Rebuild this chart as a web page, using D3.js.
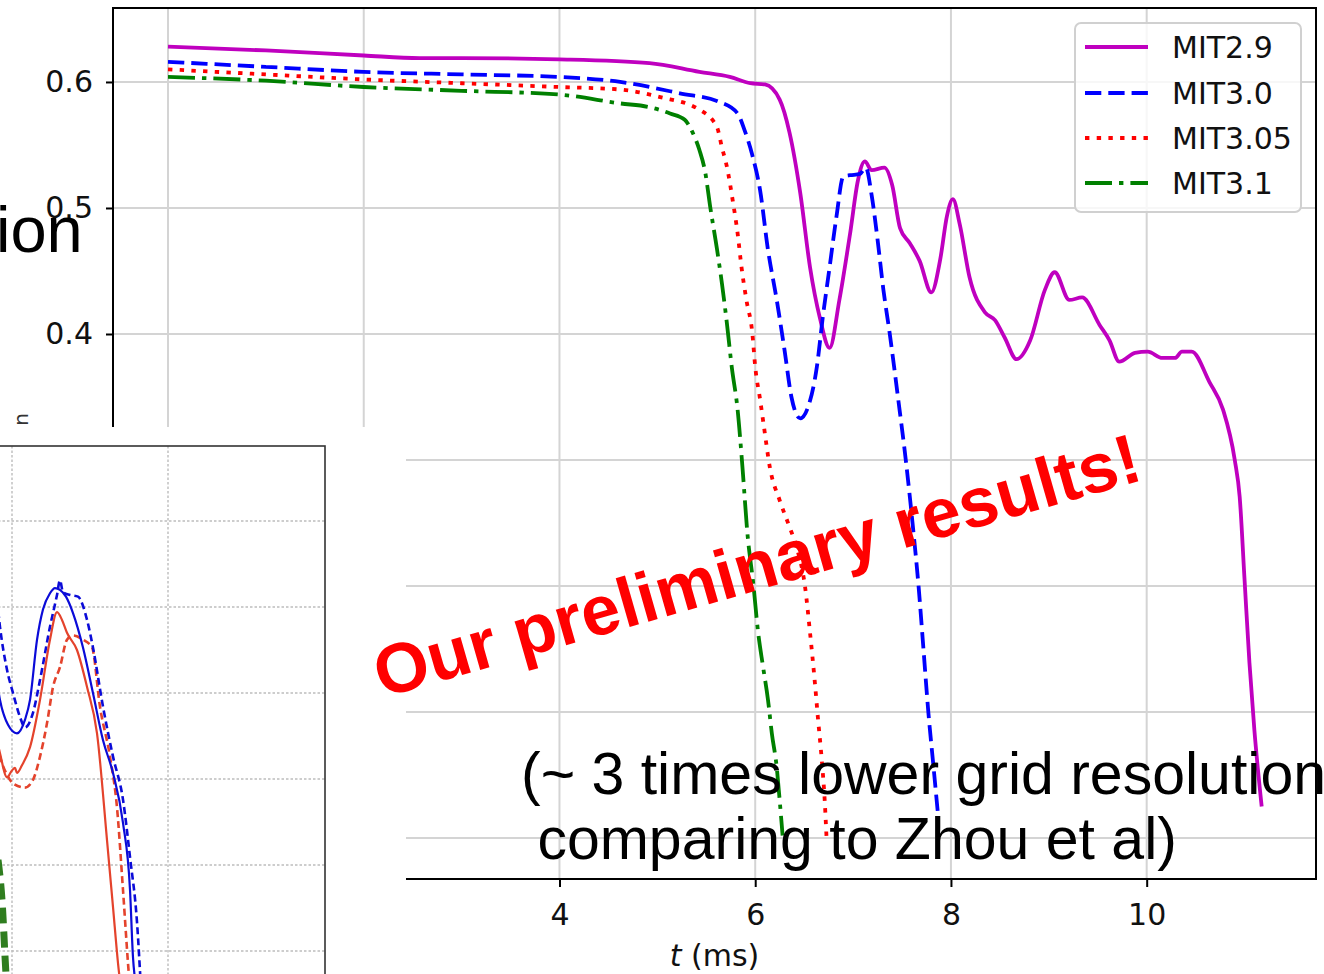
<!DOCTYPE html>
<html>
<head>
<meta charset="utf-8">
<script src="https://cdn.jsdelivr.net/npm/d3@7"></script>
<style>
  html, body { margin: 0; padding: 0; background: #fff; overflow: hidden; }
</style>
</head>
<body>
<svg id="fig" width="1324" height="974" font-family="DejaVu Sans, sans-serif"></svg>
<script>
// ---- main chart: minimum value vs time, four MIT cases -----------------
const seriesNames = ["MIT2.9", "MIT3.0", "MIT3.05", "MIT3.1"];
const seriesColors = ["#bf00bf", "#0000ff", "#ff0000", "#008000"];

// [t (ms), value]
const mit29 = [[0.00,0.628],[1.00,0.625],[2.00,0.621],[2.57,0.619],[3.00,0.619],[4.00,0.618],[4.92,0.615],[5.43,0.608],[5.74,0.604],[5.95,0.599],[6.10,0.598],[6.25,0.586],[6.35,0.560],[6.46,0.512],[6.56,0.453],[6.66,0.413],[6.76,0.389],[6.86,0.427],[6.97,0.480],[7.05,0.522],[7.12,0.537],[7.19,0.530],[7.32,0.532],[7.40,0.518],[7.48,0.484],[7.58,0.472],[7.68,0.458],[7.80,0.433],[7.89,0.459],[7.96,0.494],[8.02,0.507],[8.09,0.487],[8.19,0.445],[8.35,0.417],[8.45,0.411],[8.55,0.397],[8.67,0.380],[8.81,0.395],[8.96,0.435],[9.06,0.449],[9.21,0.427],[9.34,0.429],[9.52,0.407],[9.62,0.395],[9.72,0.378],[9.88,0.385],[10.01,0.386],[10.16,0.381],[10.29,0.381],[10.36,0.386],[10.46,0.386],[10.64,0.362],[10.78,0.340],[10.90,0.300],[10.95,0.271],[11.00,0.205],[11.05,0.139],[11.10,0.086],[11.175,0.025]];
const mit30 = [[0.00,0.616],[1.00,0.612],[2.00,0.608],[3.00,0.606],[4.00,0.604],[4.62,0.600],[5.23,0.591],[5.64,0.584],[5.82,0.575],[5.89,0.562],[5.97,0.542],[6.05,0.514],[6.13,0.467],[6.22,0.427],[6.30,0.387],[6.37,0.350],[6.46,0.333],[6.54,0.342],[6.63,0.374],[6.69,0.413],[6.76,0.453],[6.83,0.493],[6.90,0.525],[6.97,0.526],[7.07,0.527],[7.13,0.532],[7.19,0.510],[7.25,0.475],[7.31,0.435],[7.375,0.400],[7.46,0.349],[7.54,0.299],[7.61,0.248],[7.67,0.199],[7.72,0.149],[7.77,0.099],[7.82,0.058],[7.865,0.021]];
const mit305 = [[0.00,0.610],[1.00,0.606],[2.00,0.602],[3.00,0.599],[4.00,0.596],[4.62,0.594],[5.03,0.588],[5.43,0.578],[5.61,0.564],[5.66,0.548],[5.71,0.533],[5.77,0.506],[5.82,0.480],[5.86,0.453],[5.91,0.427],[5.97,0.401],[6.00,0.374],[6.05,0.348],[6.09,0.326],[6.15,0.294],[6.25,0.268],[6.35,0.247],[6.43,0.229],[6.51,0.199],[6.56,0.163],[6.61,0.123],[6.64,0.096],[6.68,0.062],[6.71,0.030],[6.73,-0.002]];
const mit31 = [[0.00,0.604],[1.00,0.601],[2.00,0.596],[3.00,0.593],[4.00,0.590],[4.62,0.583],[4.92,0.580],[5.13,0.575],[5.28,0.570],[5.36,0.560],[5.43,0.546],[5.49,0.528],[5.54,0.501],[5.61,0.467],[5.66,0.440],[5.71,0.409],[5.76,0.374],[5.82,0.340],[5.87,0.294],[5.92,0.242],[5.98,0.202],[6.03,0.163],[6.08,0.136],[6.13,0.110],[6.17,0.083],[6.22,0.056],[6.25,0.030],[6.28,0.002]];

const xTicks = [0, 2, 4, 6, 8, 10];
const yTicks = [0.0, 0.1, 0.2, 0.3, 0.4, 0.5, 0.6];
const xDomain = [-0.562, 11.73];
const yDomain = [-0.0325, 0.6587];

// ---- inset (reference curves, Zhou et al) --------------------------------
const insetXTicks = [7, 9];
const insetYTicks = [0.1, 0.2, 0.3, 0.4, 0.5, 0.6];
const zhouBlueSolid = [[6.769,0.438],[6.846,0.392],[6.949,0.363],[7.064,0.353],[7.167,0.369],[7.231,0.392],[7.321,0.462],[7.397,0.497],[7.487,0.516],[7.551,0.522],[7.615,0.520],[7.692,0.512],[7.782,0.493],[7.910,0.453],[8.038,0.400],[8.167,0.345],[8.295,0.307],[8.423,0.249],[8.513,0.171],[8.551,0.093],[8.603,0.055]];
const zhouBlueDashed = [[6.808,0.508],[6.846,0.477],[6.936,0.427],[7.013,0.400],[7.103,0.372],[7.167,0.360],[7.269,0.377],[7.359,0.415],[7.487,0.477],[7.577,0.514],[7.615,0.531],[7.654,0.517],[7.744,0.514],[7.846,0.512],[7.962,0.485],[8.038,0.453],[8.167,0.384],[8.295,0.326],[8.423,0.276],[8.513,0.209],[8.603,0.133],[8.654,0.055]];
const zhouRedSolid = [[6.808,0.345],[6.846,0.330],[6.936,0.302],[7.000,0.310],[7.038,0.313],[7.064,0.307],[7.128,0.316],[7.231,0.337],[7.359,0.392],[7.487,0.462],[7.577,0.494],[7.641,0.485],[7.705,0.470],[7.833,0.450],[7.962,0.407],[8.090,0.353],[8.218,0.229],[8.295,0.151],[8.359,0.086],[8.397,0.055]];
const zhouRedDashed = [[6.808,0.340],[6.846,0.326],[6.936,0.305],[7.013,0.295],[7.167,0.290],[7.269,0.299],[7.359,0.326],[7.449,0.365],[7.526,0.407],[7.615,0.430],[7.705,0.462],[7.782,0.467],[7.910,0.462],[8.026,0.453],[8.128,0.384],[8.256,0.326],[8.346,0.267],[8.423,0.171],[8.487,0.086],[8.513,0.055]];
const zhouGreen = [[6.821,0.206],[6.872,0.159],[6.923,0.073],[6.936,0.055]];

// ---------------------------------------------------------------------------
const svg = d3.select("#fig");
const P = { left: 113, top: 8, right: 1316, bottom: 879 };
const x = d3.scaleLinear().domain(xDomain).range([P.left, P.right]);
const y = d3.scaleLinear().domain(yDomain).range([P.bottom, P.top]);
const SANS = "Liberation Sans, Arial, sans-serif";

svg.append("rect").attr("width", 1324).attr("height", 974).attr("fill", "#fff");

svg.append("defs").append("clipPath").attr("id", "plotClip")
  .append("rect").attr("x", P.left).attr("y", P.top)
  .attr("width", P.right - P.left).attr("height", P.bottom - P.top);

// grid
const grid = svg.append("g").attr("stroke", "#d4d4d4").attr("stroke-width", 2);
grid.selectAll("line.gx").data(xTicks).join("line").attr("class", "gx")
  .attr("x1", d => x(d)).attr("x2", d => x(d)).attr("y1", P.top).attr("y2", P.bottom);
grid.selectAll("line.gy").data(yTicks).join("line").attr("class", "gy")
  .attr("y1", d => y(d)).attr("y2", d => y(d)).attr("x1", P.left).attr("x2", P.right);

// series
const series = [mit29, mit30, mit305, mit31];
const dashes = [null, "16.3,7", "4.4,7.3", "27,7,4.4,7"];
const line = d3.line().x(d => x(d[0])).y(d => y(d[1])).curve(d3.curveMonotoneX);
const lines = svg.append("g").attr("clip-path", "url(#plotClip)");
series.forEach((s, i) => {
  lines.append("path").datum(s).attr("d", line)
    .attr("fill", "none").attr("stroke", seriesColors[i]).attr("stroke-width", 3.8)
    .attr("stroke-dasharray", dashes[i]).attr("stroke-linejoin", "round");
});

// axes
const yAxis = d3.axisLeft(y).tickValues(yTicks).tickSize(7).tickPadding(13).tickFormat(d3.format(".1f"));
const xAxis = d3.axisBottom(x).tickValues(xTicks).tickSize(8).tickPadding(17).tickFormat(d3.format("d"));
const gy = svg.append("g").attr("transform", `translate(${P.left},0)`).call(yAxis);
const gx = svg.append("g").attr("transform", `translate(0,${P.bottom})`).call(xAxis);
[gx, gy].forEach(g => {
  g.attr("font-family", null).attr("font-size", null);
  g.select(".domain").remove();
  g.selectAll(".tick line").attr("stroke", "#000").attr("stroke-width", 2);
  g.selectAll(".tick text").attr("fill", "#111").attr("font-size", 30)
    .attr("font-family", "DejaVu Sans, sans-serif");
});
svg.append("rect").attr("x", P.left).attr("y", P.top)
  .attr("width", P.right - P.left).attr("height", P.bottom - P.top)
  .attr("fill", "none").attr("stroke", "#000").attr("stroke-width", 2);

// x label
const xl = svg.append("text").attr("x", (P.left + P.right) / 2).attr("y", 966)
  .attr("text-anchor", "middle").attr("fill", "#111").attr("font-size", 30);
xl.append("tspan").attr("font-style", "italic").text("t");
xl.append("tspan").text(" (ms)");

// y label (mostly hidden under the inset panel)
const yl = svg.append("text").attr("transform", "translate(22,413) rotate(-90)")
  .attr("text-anchor", "end").attr("fill", "#333");
yl.append("tspan").attr("font-size", 28).attr("font-style", "italic").text("R");
yl.append("tspan").attr("dy", 6).attr("font-size", 20).text("min");

// legend
const leg = svg.append("g");
leg.append("rect").attr("x", 1075).attr("y", 23).attr("width", 226).attr("height", 189)
  .attr("rx", 6).attr("fill", "#fff").attr("fill-opacity", 0.8)
  .attr("stroke", "#d0d0d0").attr("stroke-width", 2);
const legRows = [47, 93, 138, 183];
seriesNames.forEach((n, i) => {
  leg.append("line").attr("x1", 1085).attr("x2", 1148).attr("y1", legRows[i]).attr("y2", legRows[i])
    .attr("stroke", seriesColors[i]).attr("stroke-width", 3.8).attr("stroke-dasharray", dashes[i]);
  leg.append("text").attr("x", 1172).attr("y", legRows[i]).attr("dy", "0.36em")
    .attr("fill", "#111").attr("font-size", 30).text(n);
});

// slide heading fragment
svg.append("text").attr("x", -4).attr("y", 252).attr("fill", "#000")
  .attr("font-family", SANS).attr("font-size", 65).text("ion");

// ---- inset panel ------------------------------------------------------------
svg.append("rect").attr("x", 0).attr("y", 427).attr("width", 406).attr("height", 547).attr("fill", "#fff");
const IB = { left: -20, top: 446, right: 325, bottom: 1010 };
const xi = d3.scaleLinear().domain([7, 9]).range([12, 168]);
const yi = d3.scaleLinear().domain([0.1, 0.6]).range([951, 521]);
svg.select("defs").append("clipPath").attr("id", "insetClip")
  .append("rect").attr("x", IB.left).attr("y", IB.top)
  .attr("width", IB.right - IB.left).attr("height", IB.bottom - IB.top);
const ig = svg.append("g").attr("clip-path", "url(#insetClip)");
ig.selectAll("line.ix").data(insetXTicks).join("line")
  .attr("x1", d => xi(d)).attr("x2", d => xi(d)).attr("y1", IB.top).attr("y2", IB.bottom)
  .attr("stroke", "#bdbdbd").attr("stroke-width", 1.4).attr("stroke-dasharray", "2.5,2");
ig.selectAll("line.iy").data(insetYTicks).join("line")
  .attr("y1", d => yi(d)).attr("y2", d => yi(d)).attr("x1", IB.left).attr("x2", IB.right)
  .attr("stroke", "#bdbdbd").attr("stroke-width", 1.4).attr("stroke-dasharray", "2.5,2");
const iline = d3.line().x(d => xi(d[0])).y(d => yi(d[1])).curve(d3.curveMonotoneX);
const insetSeries = [
  [zhouGreen, "#2f7d1f", 7, "16,8"],
  [zhouRedDashed, "#e4432c", 2.6, "7,4"],
  [zhouBlueDashed, "#0b0bd8", 2.6, "7,4"],
  [zhouRedSolid, "#e4432c", 2.2, null],
  [zhouBlueSolid, "#0b0bd8", 2.2, null]
];
insetSeries.forEach(([d, c, w, da]) => {
  ig.append("path").datum(d).attr("d", iline).attr("fill", "none")
    .attr("stroke", c).attr("stroke-width", w).attr("stroke-dasharray", da);
});
svg.append("rect").attr("x", IB.left).attr("y", IB.top)
  .attr("width", IB.right - IB.left).attr("height", IB.bottom - IB.top)
  .attr("fill", "none").attr("stroke", "#333").attr("stroke-width", 1.6);

// ---- annotations ---------------------------------------------------------
svg.append("text").attr("transform", "translate(382,698) rotate(-16)")
  .attr("fill", "#ff0000").attr("font-family", SANS)
  .attr("font-weight", "bold").attr("font-size", 70).text("Our preliminary results!");

const noteLines = ["(~ 3 times lower grid resolution", " comparing to Zhou et al)"];
const noteBaselines = [794, 859];
noteLines.forEach((t, i) => {
  svg.append("text").attr("x", 521).attr("y", noteBaselines[i])
    .attr("font-family", SANS).attr("font-size", 59).attr("fill", "#000")
    .style("white-space", "pre").text(t);
});
</script>
</body>
</html>
